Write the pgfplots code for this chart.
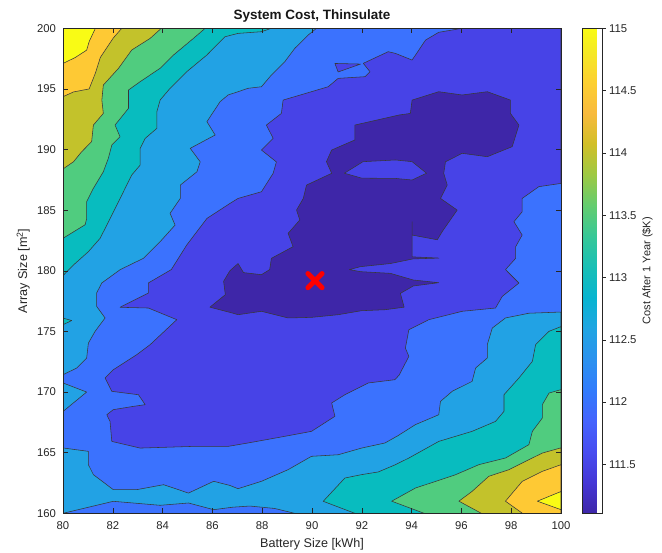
\documentclass[border=0pt]{standalone}
\usepackage{pgfplots}
\pgfplotsset{compat=1.18}
\usepackage{fontspec}
\setmainfont{Liberation Sans}
\definecolor{cz}{RGB}{62,38,168}
\definecolor{ca}{RGB}{71,67,231}
\definecolor{cb}{RGB}{59,114,254}
\definecolor{cc}{RGB}{34,162,228}
\definecolor{cd}{RGB}{8,188,191}
\definecolor{ce}{RGB}{80,204,127}
\definecolor{cf}{RGB}{195,194,43}
\definecolor{cg}{RGB}{254,201,52}
\definecolor{ch}{RGB}{249,251,21}
\definecolor{axgray}{RGB}{38,38,38}
\pgfplotsset{colormap={parula}{
rgb(1pt)=(0.2422,0.1504,0.6603) rgb(5pt)=(0.2706,0.2147,0.8364)
rgb(9pt)=(0.2813,0.3006,0.9414) rgb(13pt)=(0.2699,0.3892,0.9906)
rgb(17pt)=(0.1963,0.4847,0.9892) rgb(21pt)=(0.1687,0.5703,0.9359)
rgb(25pt)=(0.1248,0.6459,0.8883) rgb(29pt)=(0.0297,0.7082,0.8163)
rgb(33pt)=(0.0964,0.7500,0.7120) rgb(37pt)=(0.2161,0.7843,0.5923)
rgb(41pt)=(0.3909,0.8029,0.4354) rgb(45pt)=(0.6174,0.7876,0.2612)
rgb(49pt)=(0.8203,0.7498,0.1535) rgb(53pt)=(0.9728,0.7298,0.2394)
rgb(57pt)=(0.9892,0.8136,0.1885) rgb(61pt)=(0.9597,0.9135,0.1423)
rgb(64pt)=(0.9769,0.9839,0.0805)}}
\pgfplotsset{/pgf/number format/assume math mode=true}
\tikzset{cl/.style={draw=black!78, line width=0.55pt, line join=round}}
\begin{document}
\begin{tikzpicture}
\begin{axis}[name=main, scale only axis, width=498pt, height=485pt,
 xmin=80, xmax=100, ymin=160, ymax=200,
 xtick={80,82,...,100}, ytick={160,165,...,200},
 tick pos=both, tick align=inside, major tick length=5pt,
 axis line style={axgray, line width=0.6pt},
 tick style={axgray, line width=0.5pt},
 ticklabel style={font=\fontsize{11.3}{13}\selectfont, text=axgray},
 xticklabel style={yshift=-4.5pt},
 yticklabel style={xshift=-3.5pt},
 xlabel={Battery Size [kWh]}, ylabel={Array Size [m\textsuperscript{2}]},
 every axis x label/.style={at={(axis description cs:0.5,-0.064)}, anchor=center, font=\fontsize{12.6}{14}\selectfont, text=axgray},
 every axis y label/.style={at={(axis description cs:-0.08,0.5)}, anchor=center, rotate=90, font=\fontsize{12.6}{14}\selectfont, text=axgray},
 title={System Cost, Thinsulate},
 every axis title/.style={at={(axis description cs:0.5,1.026)}, anchor=center, font=\fontsize{13.5}{15}\selectfont\bfseries, text=axgray!60!black},
 axis on top, axis background/.style={fill=cb},
 colorbar, colormap name=parula, point meta min=111.106, point meta max=115,
 colorbar style={at={(parent axis.north east)}, anchor=north west, xshift=13pt,
   scale only axis, width=20pt, height=485pt,
   ytick={111.5,112,...,115}, ytick pos=right, yticklabel pos=right,
   tick align=outside, major tick length=3pt,
   axis line style={axgray, line width=0.5pt}, tick style={axgray},
   yticklabel style={font=\fontsize{11.3}{13}\selectfont, text=axgray, /pgf/number format/fixed, /pgf/number format/assume math mode=true},
   ylabel={Cost After 1 Year (\$K)},
   every axis y label/.style={at={(axis description cs:3.25,0.5)}, anchor=center, rotate=90, font=\fontsize{11}{13}\selectfont, text=axgray}},
]
% band 112.5-113 (top-left)
\addplot[fill=cc, cl] coordinates {(80,200) (90.18,200) (89.85,199.45) (89.31,198.35) (88.91,197.25) (88.37,196.15) (87.97,195.18) (87.43,195.05) (87.03,194.77) (86.63,194.5) (86.31,193.95) (85.78,192.3) (86.11,191.2) (85.11,190.1) (85.51,188.99) (85.38,188.17) (84.71,187.07) (84.71,185.97) (84.3,184.74) (84.5,183.77) (83.9,182.4) (83.23,181.03) (82.3,180.1) (81.56,179) (81.35,178.17) (81.35,177.07) (81.69,176.11) (81.29,175.01) (81.02,174.04) (80.95,172.81) (80.55,171.98) (80,171.43)} -- cycle;
\addplot[fill=cc, cl] coordinates {(80,170.75) (80.95,170.0) (80,168.4)} -- cycle;
% band 112.5-113 (bottom)
\addplot[fill=cc, cl] coordinates {(80,165.39) (81.02,165.11) (81.02,164.01) (81.22,163.19) (82.02,161.95) (82.96,161.95) (84.04,162.36) (85.04,161.67) (86.05,162.64) (86.7,162.3) (87.03,162.03) (87.97,162.64) (89.04,163.6) (89.98,164.7) (91.05,164.83) (91.99,165.38) (92.93,165.8) (93.45,166.4) (94.15,167.31) (95.09,168.13) (95.16,169.23) (95.63,170.06) (96.43,170.88) (96.57,171.98) (97.04,172.81) (97.04,173.91) (97.24,175.28) (97.77,176.11) (98.71,176.5) (100,176.6) (100,160) (89.3,160) (88.5,160.4) (87.5,160.6) (86.8,160.5) (86.05,160.3) (85.04,160.85) (83.9,160.66) (82.02,160.99) (80,160)} -- cycle;
% band 113-113.5
\addplot[fill=cd, cl] coordinates {(80,200) (88.37,200) (87.97,199.72) (87.03,199.58) (86.5,199.3) (85.78,197.8) (84.97,196.42) (84.3,195.05) (83.9,194.08) (83.77,193.12) (83.77,191.75) (83.3,190.92) (83.1,190.1) (83.1,188.72) (82.76,187.9) (82.56,187.07) (82.23,185.7) (81.76,183.77) (81.49,182.68) (81.02,181.58) (80.42,180.48) (80,179.6)} -- cycle;
\addplot[fill=cd, cl] coordinates {(80,176.1) (80.35,175.9) (80,175.55)} -- cycle;
\addplot[fill=cd, cl] coordinates {(90.45,160.99) (91.32,162.91) (91.99,163.19) (92.66,163.41) (93.35,164.01) (93.89,164.56) (95.09,165.93) (96.43,166.76) (97.37,167.58) (97.71,168.41) (97.71,169.78) (98.31,171.16) (98.85,172.53) (98.98,173.91) (99.52,175.01) (100,175.4) (100,160) (91.72,160)} -- cycle;
% band 113.5-114
\addplot[fill=ce, cl] coordinates {(80,200) (85.71,200) (85.24,199.17) (84.44,197.8) (83.9,196.7) (83.1,195.6) (82.63,194.91) (82.63,193.4) (82.09,192.02) (82.29,191.06) (81.96,190.37) (81.82,189.27) (81.62,188.17) (81.22,186.8) (80.95,185.7) (80.95,184.3) (80.89,183.8) (80,182.68)} -- cycle;
\addplot[fill=ce, cl] coordinates {(93.2,161.0) (94.15,162.08) (95.76,163.18) (96.7,164.01) (97.77,164.56) (98.71,165.66) (98.85,166.76) (99.25,167.86) (99.25,168.96) (99.52,169.92) (100,170.2) (100,160) (94.5,160)} -- cycle;
% band 114-114.5
\addplot[fill=cf, cl] coordinates {(80,200) (83.95,200) (83.5,199.17) (82.76,198.21) (82.23,196.7) (81.62,195.32) (81.56,194.08) (81.62,192.98) (81.22,192.02) (81.15,190.65) (80.75,189.82) (80.42,188.99) (80,188.4)} -- cycle;
\addplot[fill=cf, cl] coordinates {(95.9,161.0) (96.43,161.81) (97.1,163.05) (97.91,163.6) (98.71,164.42) (99.25,164.97) (100,165.4) (100,160) (96.8,160)} -- cycle;
% band 114.5-115
\addplot[fill=cg, cl] coordinates {(80,200) (82.36,200) (82.02,199.2) (81.5,197.6) (81.3,196.3) (81.05,195.0) (80.42,194.75) (80,194.36)} -- cycle;
\addplot[fill=cg, cl] coordinates {(97.77,161.0) (98.44,162.63) (99.25,163.46) (100,164.01) (100,160) (98.45,160)} -- cycle;
% band >115
\addplot[fill=ch, cl] coordinates {(80,200) (81.3,200) (81.05,198.9) (80.95,198.2) (80.5,197.6) (80,197.1)} -- cycle;
\addplot[fill=ch, cl] coordinates {(99.05,161.0) (100,161.8) (100,160.3)} -- cycle;
% band 111.5-112
\addplot[fill=ca, cl] coordinates {(96.03,200) (100,200) (100,187.21) (99.11,186.94) (98.44,185.97) (98.44,184.87) (98.11,184.05) (98.44,182.95) (98.18,181.99) (98.18,181.03) (97.77,180.1) (98.31,178.99) (97.64,177.89) (97.37,176.93) (96.03,176.66) (94.69,175.97) (93.89,175.14) (93.75,173.63) (93.89,172.94) (93.5,171.4) (93.33,171.02) (92.26,170.75) (91.32,169.78) (90.79,169.1) (90.92,168.0) (89.98,166.76) (88.91,166.35) (87.43,165.8) (86.63,165.52) (85.24,165.52) (83.1,165.38) (81.96,165.93) (81.89,167.58) (81.76,168.13) (82.02,168.55) (82.83,168.82) (83.3,168.96) (83.03,169.78) (81.96,170.06) (81.69,171.16) (82.02,171.84) (82.96,173.08) (83.5,173.91) (84.57,175.97) (83.43,176.93) (82.29,176.99) (83.43,178.17) (83.43,179.0) (84.35,180.1) (84.97,182.13) (85.78,184.32) (86.7,185.55) (87.03,185.97) (87.97,186.52) (88.44,188.04) (88.57,188.98) (87.97,189.96) (88.44,190.92) (88.17,192.02) (88.77,192.98) (88.84,194.08) (90.65,195.18) (91.05,195.87) (92.13,196.01) (92.33,196.42) (92.06,197.11) (93.06,198.07) (93.35,197.93) (94.02,197.38) (94.56,199.03) (95.09,199.67)} -- cycle;
\addplot[fill=ca, cl] coordinates {(90.92,197.1) (91.95,197.05) (91.05,196.4)} -- cycle;
% band <111.5
\addplot[fill=cz, cl] coordinates {(85.9,177.0) (86.52,178.03) (86.45,179.13) (86.7,180.0) (87.03,180.6) (87.25,179.85) (87.97,179.68) (88.3,180.1) (88.37,181.03) (89.24,181.99) (89.04,183.09) (89.51,184.19) (89.38,185.01) (89.65,185.97) (89.78,187.07) (90.79,188.04) (90.58,189.0) (90.79,189.96) (91.72,190.79) (91.72,192.02) (93.5,192.85) (93.95,192.98) (94.02,194.08) (95.09,194.77) (96.03,194.5) (97.04,194.77) (97.97,194.08) (97.97,192.98) (98.31,192.02) (98.04,190.24) (97.04,189.41) (96.03,189.69) (95.36,188.99) (95.29,188.04) (95.43,187.07) (95.16,185.97) (95.83,185.01) (95.25,183.3) (95.03,182.56) (94.02,182.95) (94.02,184.05) (94.02,182.95) (94.02,181.15) (95.1,181.05) (94.05,180.98) (93.15,180.6) (91.94,180.34) (91.5,180.1) (91.94,179.93) (93.15,179.79) (94.07,179.24) (95.09,179.02) (94.07,178.75) (93.55,178.14) (93.7,177.0) (92.93,176.79) (91.99,176.71) (91.05,176.38) (89.98,176.16) (89.04,176.11) (87.97,176.66) (87.03,176.38) (86.8,176.52)} -- cycle;
\addplot[fill=ca, cl] coordinates {(91.3,188.05) (92.05,189.0) (93.35,189.14) (94.02,189.0) (94.6,188.05) (94.02,187.49) (93.35,187.62) (92.0,187.64)} -- cycle;
% optimum marker
\addplot[only marks, mark=x, mark size=10pt, mark options={red, line width=5pt, line cap=round}] coordinates {(90.12,179.19)};
\end{axis}
\pgfresetboundingbox
\useasboundingbox ([shift={(-63pt,-38.7pt)}]main.south west) rectangle ([shift={(101pt,28.3pt)}]main.north east);
\end{tikzpicture}
\end{document}
